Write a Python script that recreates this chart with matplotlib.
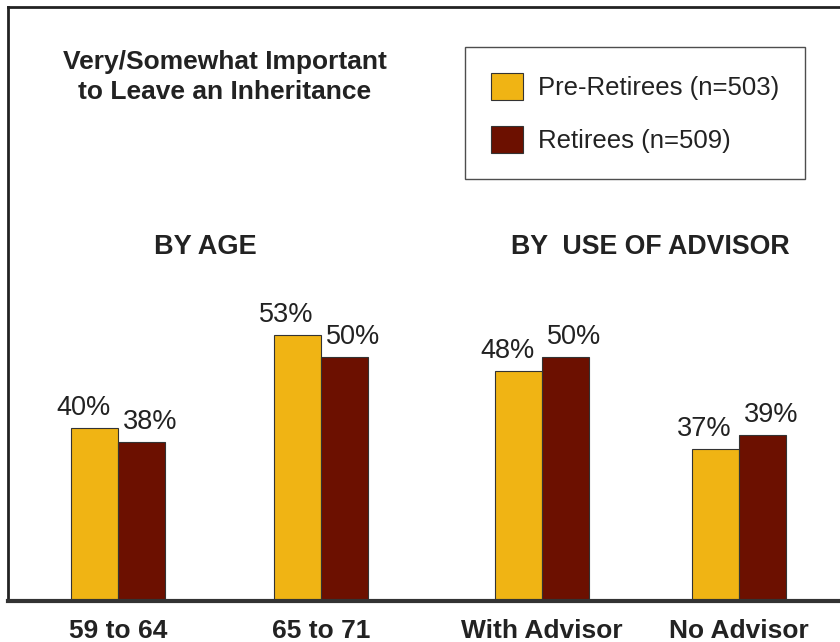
import matplotlib.pyplot as plt
import numpy as np

groups = ["59 to 64", "65 to 71", "With Advisor", "No Advisor"]
pre_retirees = [40, 53, 48, 37]
retirees = [38, 50, 50, 39]
series_labels = ["Pre-Retirees (n=503)", "Retirees (n=509)"]
title = "Very/Somewhat Important\nto Leave an Inheritance"
section_labels = ["BY AGE", "BY  USE OF ADVISOR"]

# layout
group_pos = np.array([0.0, 1.0, 2.09, 3.06])
width = 0.2315
yellow = "#F0B414"
maroon = "#6C1000"

plt.rcParams["font.family"] = ["Liberation Sans", "DejaVu Sans"]

fig = plt.figure(figsize=(8.4, 6.42), dpi=100)
ax = fig.add_axes([8 / 840, 41 / 642, 1.0, 594 / 642])

b1 = ax.bar(group_pos - width / 2, pre_retirees, width, color=yellow,
            edgecolor="#333333", linewidth=0.8)
b2 = ax.bar(group_pos + width / 2, retirees, width, color=maroon,
            edgecolor="#333333", linewidth=0.8)

# value labels, nudged apart so the pair doesn't collide
for bars, vals, dx in [(b1, pre_retirees, -8), (b2, retirees, 6)]:
    for rect, v in zip(bars, vals):
        ax.annotate(f"{v}%", (rect.get_x() + rect.get_width() / 2, v),
                    xytext=(dx, 5), textcoords="offset points",
                    ha="center", va="bottom", fontsize=19.5, color="#222222")

ax.set_ylim(15.7, 99.1)
ax.set_xlim(-0.5419, 3.596)
ax.set_xticks(group_pos)
ax.set_xticklabels(groups, fontsize=19, fontweight="bold", color="#222222")
ax.tick_params(axis="x", length=0, pad=13)
ax.set_yticks([])

for side in ["left", "top"]:
    ax.spines[side].set_linewidth(2)
    ax.spines[side].set_color("#222222")
ax.spines["bottom"].set_linewidth(3)
ax.spines["bottom"].set_color("#333333")
ax.spines["right"].set_visible(False)

fig.text(225 / 840, 1 - 77 / 642, title, ha="center", va="center",
         fontsize=19, fontweight="bold", color="#222222", linespacing=1.32)
fig.text(205 / 840, 1 - 247 / 642, section_labels[0], ha="center", va="center",
         fontsize=19.5, fontweight="bold", color="#222222")
fig.text(650 / 840, 1 - 247 / 642, section_labels[1], ha="center", va="center",
         fontsize=19.3, fontweight="bold", color="#222222")

leg = fig.legend([b1, b2], series_labels, loc="upper left",
                 bbox_to_anchor=(465 / 840, 1 - 47 / 642), borderaxespad=0,
                 fontsize=18.5, frameon=True, fancybox=False, edgecolor="#222222",
                 borderpad=1.0, handlelength=1.25, handleheight=1.25,
                 handletextpad=0.6, labelspacing=1.02)
leg.get_frame().set_linewidth(1.0)
for t in leg.get_texts():
    t.set_color("#222222")

fig.savefig("out.png", dpi=100)
